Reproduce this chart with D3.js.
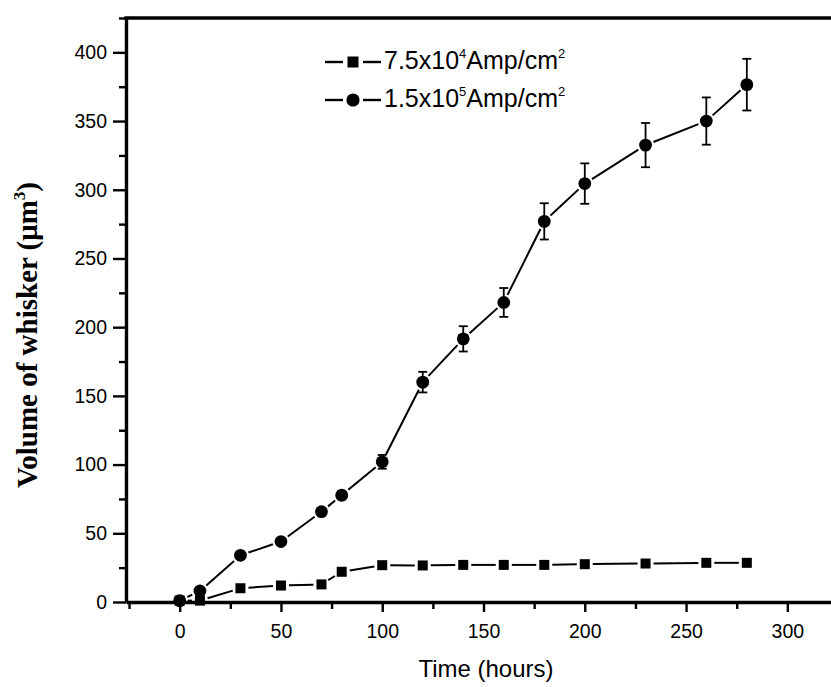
<!DOCTYPE html>
<html>
<head>
<meta charset="utf-8">
<script src="https://cdn.jsdelivr.net/npm/d3@7"></script>
<style>
  body { margin: 0; background: #fff; }
  svg { display: block; }
</style>
</head>
<body>
<div id="chart"></div>
<script>
let hoursLow = [0, 10, 30, 50, 70, 80, 100, 120, 140, 160, 180, 200, 230, 260, 280]
let volumeLow = [1, 1, 10, 12, 12.8, 22, 26.8, 26.6, 27, 27, 27, 27.5, 28, 28.5, 28.5]

let hoursHigh = [0, 10, 30, 50, 70, 80, 100, 120, 140, 160, 180, 200, 230, 260, 280]
let volumeHigh = [1, 8, 34, 44, 65.7, 77.7, 102, 160, 191.5, 218, 277, 304.5, 332.5, 350, 376.5]
let errorHigh = [0, 0, 0, 0, 0, 3, 5, 7.5, 9.2, 10.5, 13.2, 14.7, 16.1, 17.2, 18.8]

let xMajor = [0, 50, 100, 150, 200, 250, 300]
let xMinor = [-25, 25, 75, 125, 175, 225, 275, 325]
let yMajor = [0, 50, 100, 150, 200, 250, 300, 350, 400]
let yMinor = [25, 75, 125, 175, 225, 275, 325, 375, 425]

let width = 831,
  height = 687
let plotLeft = 126,
  plotRight = 840,
  plotTop = 18,
  plotBottom = 602

let svg = d3
  .select('#chart')
  .append('svg')
  .attr('width', width)
  .attr('height', height)

let x = d3.scaleLinear().domain([-26.5, 326]).range([plotLeft, plotRight])
let y = d3.scaleLinear().domain([0, 425]).range([plotBottom, plotTop])

let sans = 'Liberation Sans, Arial, sans-serif'
let serif = 'Liberation Serif, Times New Roman, serif'
let axisWidth = 3.4,
  tickWidth = 2.4

// axes
svg
  .append('g')
  .attr('transform', 'translate(0,' + plotBottom + ')')
  .call(d3.axisBottom(x).tickValues(xMajor).tickSize(10).tickSizeOuter(0).tickPadding(12))
  .call(g => g.select('.domain').attr('stroke-width', axisWidth))
  .call(g => g.selectAll('.tick line').attr('stroke-width', tickWidth))
  .call(g => g.selectAll('.tick text').style('font-family', sans).style('font-size', '19.5px').attr('fill', '#000'))
svg
  .append('g')
  .attr('transform', 'translate(0,' + plotBottom + ')')
  .call(d3.axisBottom(x).tickValues(xMinor).tickSize(7).tickFormat(''))
  .call(g => g.select('.domain').remove())
  .call(g => g.selectAll('.tick line').attr('stroke-width', tickWidth))

svg
  .append('g')
  .attr('transform', 'translate(' + plotLeft + ',0)')
  .call(d3.axisLeft(y).tickValues(yMajor).tickSize(13).tickSizeOuter(0).tickPadding(6))
  .call(g => g.select('.domain').attr('stroke-width', axisWidth))
  .call(g => g.selectAll('.tick line').attr('stroke-width', tickWidth))
  .call(g => g.selectAll('.tick text').style('font-family', sans).style('font-size', '19.5px').attr('fill', '#000'))
svg
  .append('g')
  .attr('transform', 'translate(' + plotLeft + ',0)')
  .call(d3.axisLeft(y).tickValues(yMinor).tickSize(7).tickFormat(''))
  .call(g => g.select('.domain').remove())
  .call(g => g.selectAll('.tick line').attr('stroke-width', tickWidth))

// top frame
svg
  .append('line')
  .attr('x1', plotLeft - axisWidth / 2)
  .attr('x2', plotRight)
  .attr('y1', plotTop)
  .attr('y2', plotTop)
  .attr('stroke', '#000')
  .attr('stroke-width', axisWidth)

// axis titles
svg
  .append('text')
  .attr('x', 486)
  .attr('y', 677)
  .attr('text-anchor', 'middle')
  .style('font-family', sans)
  .style('font-size', '24px')
  .text('Time (hours)')

let yTitle = svg
  .append('text')
  .attr('transform', 'translate(37,335) rotate(-90)')
  .attr('text-anchor', 'middle')
  .style('font-family', serif)
  .style('font-weight', 'bold')
  .style('font-size', '29px')
yTitle.append('tspan').text('Volume of whisker (\u03bcm')
yTitle.append('tspan').attr('dy', -12).style('font-size', '17px').text('3')
yTitle.append('tspan').attr('dy', 12).text(')')

// series helpers: Origin-style lines that stop short of each marker
function gapSegments(xs, ys, gap) {
  let segs = []
  for (let i = 0; i < xs.length - 1; i++) {
    let x1 = x(xs[i]),
      y1 = y(ys[i]),
      x2 = x(xs[i + 1]),
      y2 = y(ys[i + 1])
    let len = Math.hypot(x2 - x1, y2 - y1)
    if (len <= gap * 2) continue
    let ux = (x2 - x1) / len,
      uy = (y2 - y1) / len
    segs.push([x1 + ux * gap, y1 + uy * gap, x2 - ux * gap, y2 - uy * gap])
  }
  return segs
}

function drawSegments(segs) {
  svg
    .append('g')
    .selectAll('line')
    .data(segs)
    .enter()
    .append('line')
    .attr('x1', d => d[0])
    .attr('y1', d => d[1])
    .attr('x2', d => d[2])
    .attr('y2', d => d[3])
    .attr('stroke', '#000')
    .attr('stroke-width', 2)
}

drawSegments(gapSegments(hoursLow, volumeLow, 8))
drawSegments(gapSegments(hoursHigh, volumeHigh, 8.5))

// error bars
let errData = hoursHigh.map((h, i) => ({ h: h, v: volumeHigh[i], e: errorHigh[i] })).filter(d => d.e > 0)
let errG = svg.append('g').attr('stroke', '#000').attr('stroke-width', 1.8)
errG
  .selectAll('line.bar')
  .data(errData)
  .enter()
  .append('line')
  .attr('x1', d => x(d.h))
  .attr('x2', d => x(d.h))
  .attr('y1', d => y(d.v + d.e))
  .attr('y2', d => y(d.v - d.e))
errG
  .selectAll('line.capTop')
  .data(errData)
  .enter()
  .append('line')
  .attr('x1', d => x(d.h) - 4.5)
  .attr('x2', d => x(d.h) + 4.5)
  .attr('y1', d => y(d.v + d.e))
  .attr('y2', d => y(d.v + d.e))
errG
  .selectAll('line.capBottom')
  .data(errData)
  .enter()
  .append('line')
  .attr('x1', d => x(d.h) - 4.5)
  .attr('x2', d => x(d.h) + 4.5)
  .attr('y1', d => y(d.v - d.e))
  .attr('y2', d => y(d.v - d.e))

// markers
let sq = 10
svg
  .append('g')
  .selectAll('rect')
  .data(hoursLow)
  .enter()
  .append('rect')
  .attr('x', d => x(d) - sq / 2)
  .attr('y', (d, i) => y(volumeLow[i]) - sq / 2)
  .attr('width', sq)
  .attr('height', sq)
  .attr('fill', '#000')

svg
  .append('g')
  .selectAll('circle')
  .data(hoursHigh)
  .enter()
  .append('circle')
  .attr('cx', d => x(d))
  .attr('cy', (d, i) => y(volumeHigh[i]))
  .attr('r', 6.4)
  .attr('fill', '#000')

// legend
let legend = svg.append('g').attr('transform', 'translate(325,0)')
let entries = [
  { shape: 'square', base: '7.5x10', exp: '4', rowY: 62 },
  { shape: 'circle', base: '1.5x10', exp: '5', rowY: 100 },
]
let entry = legend
  .selectAll('g.legend-entry')
  .data(entries)
  .enter()
  .append('g')
  .classed('legend-entry', true)
  .attr('transform', d => 'translate(0,' + d.rowY + ')')
entry.append('line').attr('x1', 0).attr('x2', 18).attr('stroke', '#000').attr('stroke-width', 2.4)
entry.append('line').attr('x1', 38).attr('x2', 56).attr('stroke', '#000').attr('stroke-width', 2.4)
entry
  .filter(d => d.shape === 'square')
  .append('rect')
  .attr('x', 28 - 5.5)
  .attr('y', -5.5)
  .attr('width', 11)
  .attr('height', 11)
  .attr('fill', '#000')
entry
  .filter(d => d.shape === 'circle')
  .append('circle')
  .attr('cx', 28)
  .attr('r', 6.6)
  .attr('fill', '#000')
let label = entry
  .append('text')
  .attr('x', 59)
  .attr('y', 7)
  .style('font-family', sans)
  .style('font-size', '25px')
label.append('tspan').text(d => d.base)
label.append('tspan').attr('dy', -11).style('font-size', '13px').text(d => d.exp)
label.append('tspan').attr('dy', 11).text('Amp/cm')
label.append('tspan').attr('dy', -11).style('font-size', '13px').text('2')
</script>
</body>
</html>
